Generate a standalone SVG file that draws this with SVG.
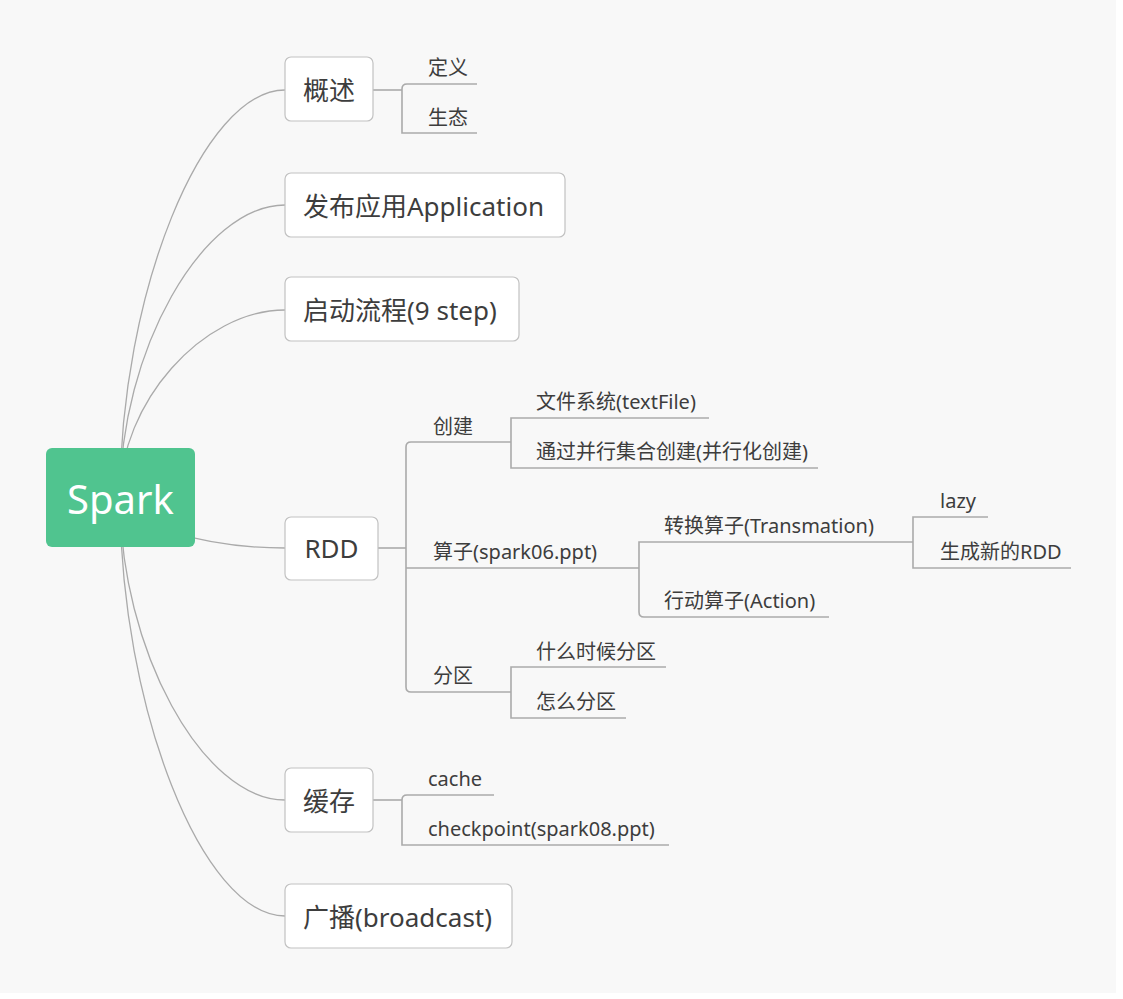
<svg xmlns="http://www.w3.org/2000/svg" width="1123" height="999" viewBox="0 0 1123 999">
<style>
.bg{fill:#f8f8f8}
.box{fill:#ffffff;stroke:#c2c2c2;stroke-width:1.2}
.root{fill:#50c48f}
.curve{fill:none;stroke:#aaaaaa;stroke-width:1.3}
.tree{fill:none;stroke:#aaaaaa;stroke-width:1.6}
.t1{font-family:"Noto Sans","Noto Sans CJK SC",sans-serif;font-size:26px;fill:#3d3d3d}
.t2{font-family:"Noto Sans","Noto Sans CJK SC",sans-serif;font-size:20px;fill:#3d3d3d}
.t0{font-family:"Noto Sans","Noto Sans CJK SC",sans-serif;font-size:40px;fill:#ffffff}
</style>
<rect x="0" y="0" width="1123" height="999" fill="#ffffff"/>
<rect class="bg" x="0" y="0" width="1116" height="993"/>
<g id="connectors">
<path class="curve" d="M120,497 C120,294 202.5,90 285,90"/>
<path class="curve" d="M120,497 C120,351 202.5,205 285,205"/>
<path class="curve" d="M120,497 C120,403 202.5,310 285,310"/>
<path class="curve" d="M120,497 C120,522 202.5,548 285,548"/>
<path class="curve" d="M120,497 C120,649 202.5,800 285,800"/>
<path class="curve" d="M120,497 C120,707 202.5,916 285,916"/>
<path class="tree" d="M373,90 H402"/>
<path class="tree" d="M477,84 H407 Q402,84 402,89 V133 H477"/>
<path class="tree" d="M378,548 H406"/>
<path class="tree" d="M511,442 H411 Q406,442 406,447 V687 Q406,692 411,692 H511"/>
<path class="tree" d="M406,568 H639"/>
<path class="tree" d="M709,418 H511 V468 H818"/>
<path class="tree" d="M913,542 H639 V612 Q639,617 644,617 H829"/>
<path class="tree" d="M988,517 H913 V568 H1071"/>
<path class="tree" d="M666,667 H511 V718 H626"/>
<path class="tree" d="M373,800 H402"/>
<path class="tree" d="M494,795 H407 Q402,795 402,800 V845 H669"/>
</g>
<g id="spark">
<rect class="root" x="46" y="448" width="149" height="99" rx="6"/>
<text class="t0" x="120.5" y="514" text-anchor="middle">Spark</text>
</g>
<g id="gaishu">
<rect class="box" x="285" y="57" width="88" height="64" rx="6"/>
<text class="t1" x="329" y="100" text-anchor="middle">概述</text>
</g>
<g id="dingyi"><text class="t2" x="428" y="75">定义</text></g>
<g id="shengtai"><text class="t2" x="428" y="125">生态</text></g>
<g id="fabu">
<rect class="box" x="285" y="173" width="280" height="64" rx="6"/>
<text class="t1" x="303" y="216">发布应用Application</text>
</g>
<g id="qidong">
<rect class="box" x="285" y="277" width="234" height="64" rx="6"/>
<text class="t1" x="303" y="320">启动流程(9 step)</text>
</g>
<g id="rdd">
<rect class="box" x="285" y="517" width="93" height="63" rx="6"/>
<text class="t1" x="331.5" y="558" text-anchor="middle">RDD</text>
</g>
<g id="chuangjian"><text class="t2" x="433" y="434">创建</text></g>
<g id="wenjian"><text class="t2" x="536" y="409">文件系统(textFile)</text></g>
<g id="binghang"><text class="t2" x="536" y="459">通过并行集合创建(并行化创建)</text></g>
<g id="suanzi"><text class="t2" x="433" y="559">算子(spark06.ppt)</text></g>
<g id="zhuanhuan"><text class="t2" x="664" y="533">转换算子(Transmation)</text></g>
<g id="lazy"><text class="t2" x="940" y="508">lazy</text></g>
<g id="xinrdd"><text class="t2" x="940" y="559">生成新的RDD</text></g>
<g id="xingdong"><text class="t2" x="664" y="608">行动算子(Action)</text></g>
<g id="fenqu"><text class="t2" x="433" y="683">分区</text></g>
<g id="shenme"><text class="t2" x="536" y="659">什么时候分区</text></g>
<g id="zenme"><text class="t2" x="536" y="709">怎么分区</text></g>
<g id="huancun">
<rect class="box" x="285" y="768" width="88" height="64" rx="6"/>
<text class="t1" x="329" y="811" text-anchor="middle">缓存</text>
</g>
<g id="cache"><text class="t2" x="428" y="786">cache</text></g>
<g id="checkpoint"><text class="t2" x="428" y="836">checkpoint(spark08.ppt)</text></g>
<g id="guangbo">
<rect class="box" x="285" y="884" width="227" height="64" rx="6"/>
<text class="t1" x="303" y="927">广播(broadcast)</text>
</g>
</svg>
